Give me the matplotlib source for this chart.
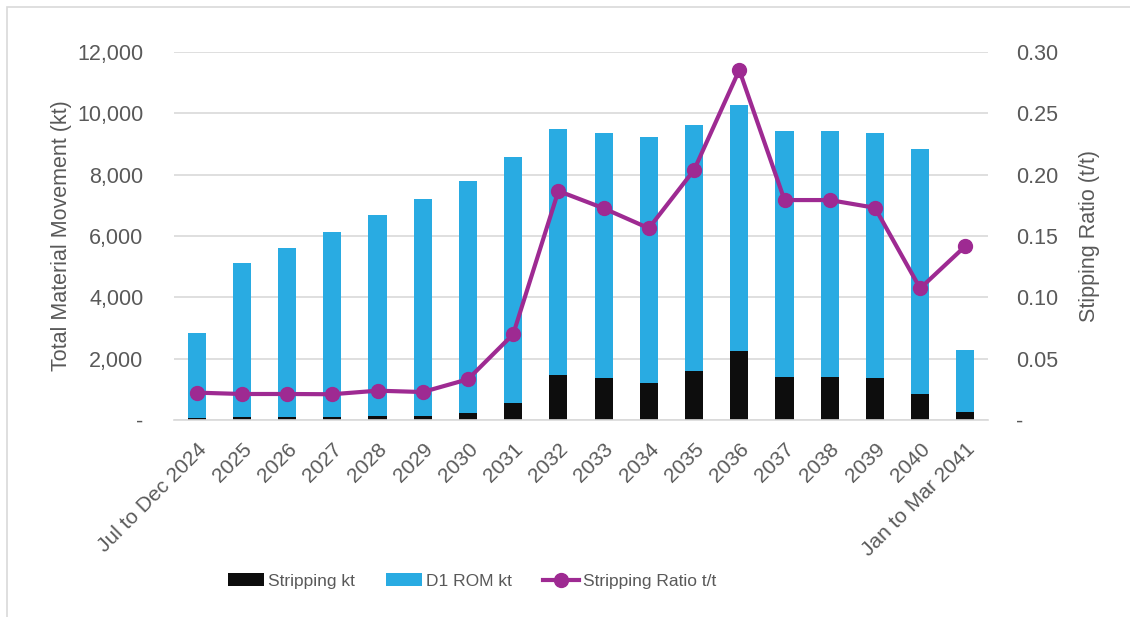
import matplotlib
matplotlib.use("Agg")
import matplotlib.pyplot as plt
from matplotlib.ticker import FuncFormatter, MultipleLocator
from matplotlib.patches import Rectangle
import numpy as np

periods = ["Jul to Dec 2024", "2025", "2026", "2027", "2028", "2029", "2030",
           "2031", "2032", "2033", "2034", "2035", "2036", "2037", "2038",
           "2039", "2040", "Jan to Mar 2041"]
stripping_kt = [60, 90, 90, 110, 130, 130, 220, 545, 1470, 1360, 1220, 1600,
                2250, 1415, 1415, 1360, 840, 260]
total_kt = [2830, 5120, 5610, 6130, 6680, 7200, 7780, 8575, 9490, 9370, 9240,
            9610, 10270, 9430, 9430, 9370, 8850, 2280]
rom_kt = [t - s for t, s in zip(total_kt, stripping_kt)]
strip_ratio = [0.0223, 0.0212, 0.0212, 0.0210, 0.0239, 0.0228, 0.0332, 0.0699,
               0.1867, 0.1726, 0.1563, 0.2038, 0.2853, 0.1793, 0.1793, 0.1730,
               0.1073, 0.1418]

TEXT = "#595959"
BLUE = "#29ABE2"
BLACK = "#0D0D0D"
PURPLE = "#9E2A92"
GRID = "#D9D9D9"

plt.rcParams["font.family"] = ["Liberation Sans", "DejaVu Sans"]

fig = plt.figure(figsize=(11.3, 6.17), dpi=100)
ax = fig.add_axes([174 / 1130, 1 - 420 / 617, (988 - 174) / 1130, (420 - 52) / 617])
ax2 = ax.twinx()

x = np.arange(len(periods))
ax.bar(x, stripping_kt, width=0.4, color=BLACK, label="Stripping kt", zorder=2)
ax.bar(x, rom_kt, width=0.4, bottom=stripping_kt, color=BLUE, label="D1 ROM kt", zorder=2)
ax2.plot(x, strip_ratio, color=PURPLE, lw=3, marker="o", ms=10,
         label="Stripping Ratio t/t", zorder=3)

ax.set_xlim(-0.5, len(periods) - 0.5)
ax.set_ylim(0, 12000)
ax2.set_ylim(0, 0.30)
ax.yaxis.set_major_locator(MultipleLocator(2000))
ax2.yaxis.set_major_locator(MultipleLocator(0.05))
ax.yaxis.set_major_formatter(FuncFormatter(lambda v, p: "-" if v == 0 else f"{v:,.0f}"))
ax2.yaxis.set_major_formatter(FuncFormatter(lambda v, p: "-" if abs(v) < 1e-9 else f"{v:.2f}"))

ax.grid(axis="y", color=GRID, lw=1.2, zorder=0)
ax.set_axisbelow(True)
for a in (ax, ax2):
    for s in a.spines.values():
        s.set_visible(False)
    a.tick_params(length=0, colors=TEXT, labelsize=15.5)
ax.spines["bottom"].set_visible(True)
ax.spines["bottom"].set_color(GRID)
ax.spines["bottom"].set_linewidth(1.2)

ax.set_xticks(x)
ax.set_xticklabels(periods, rotation=45, ha="right", rotation_mode="anchor")
ax.tick_params(axis="x", pad=14, labelsize=15)
ax.tick_params(axis="y", pad=22)
ax2.tick_params(axis="y", pad=20)

ax.set_ylabel("Total Material Movement (kt)", fontsize=15.5, color=TEXT, labelpad=4)
ax2.set_ylabel("Stipping Ratio (t/t)", fontsize=15.5, color=TEXT, labelpad=15)

h1, l1 = ax.get_legend_handles_labels()
h2, l2 = ax2.get_legend_handles_labels()
fig.legend(h1 + h2, l1 + l2, loc="center", bbox_to_anchor=(472 / 1130, 1 - 581 / 617),
           ncol=3, frameon=False, handlelength=2.1, handleheight=0.75,
           columnspacing=1.8, handletextpad=0.2,
           prop={"family": ["Liberation Sans Narrow", "Liberation Sans"], "size": 12.5},
           labelcolor=TEXT)

fig.patches.append(Rectangle((7 / 1130, -0.1), 1.2, 1 - 7 / 617 + 0.1,
                             transform=fig.transFigure, fill=False,
                             edgecolor="#D9D9D9", lw=1.2))

fig.savefig("out.png", dpi=100)
